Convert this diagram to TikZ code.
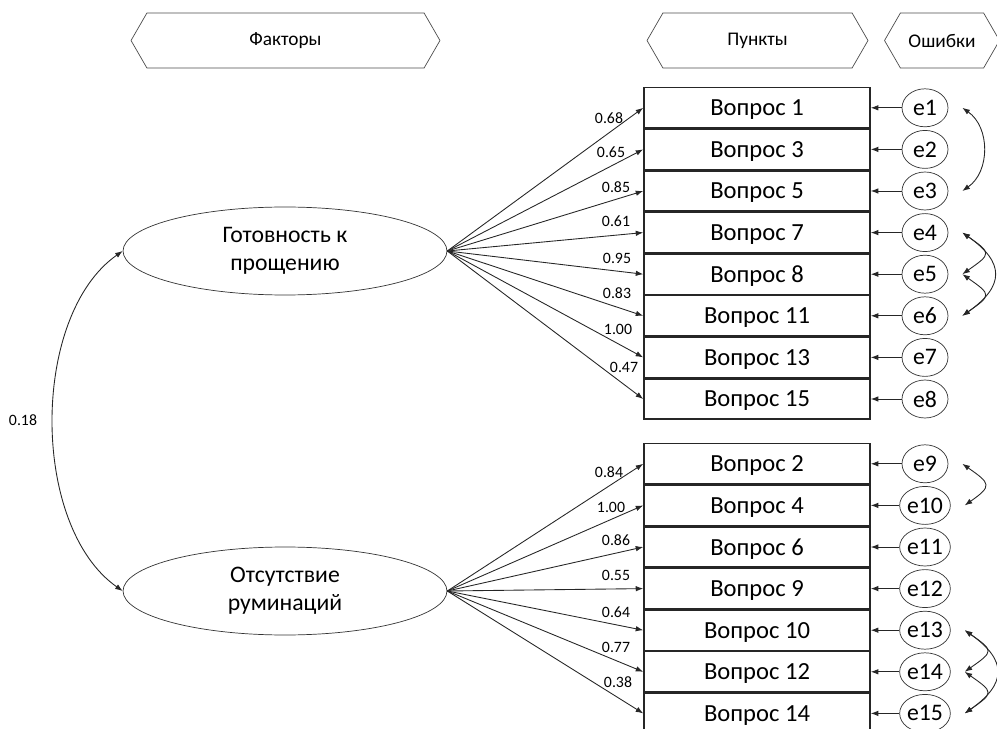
\documentclass[tikz,border=0pt]{standalone}
\usepackage{fontspec}
\setmainfont{Carlito}
\usetikzlibrary{positioning,shapes.geometric,shapes.symbols,arrows.meta}

\begin{document}
\begin{tikzpicture}[
  x=0.02cm, y=-0.02cm,
  font=\fontsize{13.5}{16}\selectfont,
  hdr/.style={draw=black!70, signal, signal to=east and west,
              signal pointer angle=120, minimum height=1.1cm, inner sep=0pt,
              font=\fontsize{11}{12}\selectfont},
  item/.style={draw=black!85, line width=0.9pt, minimum width=4.52cm,
               minimum height=0.81cm, inner sep=0pt, text depth=0pt,
               font=\fontsize{14}{16}\selectfont},
  factor/.style={draw=black!80, ellipse, align=center, minimum width=6.48cm,
                 minimum height=1.76cm, inner sep=0pt},
  err/.style={draw=black!80, ellipse, minimum width=0.92cm,
              minimum height=0.76cm, inner sep=0pt},
  num/.style={font=\fontsize{9}{10}\selectfont, inner sep=0pt},
  arr/.style={-{Latex[length=1.5mm,width=1.1mm]}, black!85, line width=0.5pt},
  corr/.style={{Latex[length=1.5mm,width=1.1mm]}-{Latex[length=1.5mm,width=1.1mm]},
               black!85, line width=0.5pt}
]
\useasboundingbox (0,0) rectangle (997,729);

\node[hdr, minimum width=6.18cm] (hf) at (285.5,40.5) {Факторы};
\node[hdr, minimum width=4.42cm] (hp) at (757.5,40.5) {Пункты};
\node[hdr, minimum width=2.3cm]  (he) at (942,40.5)   {Ошибки};

\node[factor] (f1) at (285,251) {Готовность к\\прощению};
\node[factor] (f2) at (285,591) {Отсутствие\\руминаций};
\draw[corr] (f1.west) to[out=215, in=145, looseness=0.85] (f2.west);
\node[num] (r12) at (23,420) {0.18};

% item / error / loading / label position / factor
\foreach \q/\e/\y/\w/\lx/\ly/\f in {
    1/1/107.8/0.68/609/118/f1, 3/2/149.4/0.65/611/152/f1,
    5/3/191/0.85/616/187/f1, 7/4/232.6/0.61/616/221/f1,
    8/5/274.2/0.95/617/258/f1, 11/6/315.8/0.83/617/293/f1,
    13/7/357.4/1.00/618/329/f1, 15/8/399/0.47/624/367/f1,
    2/9/463.8/0.84/609/472/f2, 4/10/505.4/1.00/611/507/f2,
    6/11/547/0.86/616/540/f2, 9/12/588.6/0.55/616/575/f2,
    10/13/630.2/0.64/616/612/f2, 12/14/671.8/0.77/616/647/f2,
    14/15/713.4/0.38/618/682/f2}{
  \node[item] (q\q) at (757,\y) {Вопрос \q};
  \node[err]  (e\e) at (925,\y) {e\e};
  \draw[arr] (e\e) -- (q\q);
  \draw[arr] (\f.east) -- (q\q.west);
  \node[num] (w\q) at (\lx,\ly) {\w};
}

% correlated errors
\draw[corr] ([xshift=0.28cm]e1.east) to[out=-35, in=35, looseness=1.05] ([xshift=0.28cm]e3.east);
\draw[corr] ([xshift=0.28cm]e4.east) to[out=-35, in=35, looseness=2.2]  ([xshift=0.28cm]e5.east);
\draw[corr] ([xshift=0.28cm]e5.east) to[out=-35, in=35, looseness=2.2]  ([xshift=0.28cm]e6.east);
\draw[corr] ([xshift=0.28cm]e4.east) to[out=-35, in=35, looseness=1.6]  ([xshift=0.28cm]e6.east);
\draw[corr] ([xshift=0.28cm]e9.east) to[out=-35, in=35, looseness=2.1]  ([xshift=0.28cm]e10.east);
\draw[corr] ([xshift=0.28cm]e13.east) to[out=-35, in=35, looseness=2.2] ([xshift=0.28cm]e14.east);
\draw[corr] ([xshift=0.28cm]e14.east) to[out=-35, in=35, looseness=2.2] ([xshift=0.28cm]e15.east);
\draw[corr] ([xshift=0.28cm]e13.east) to[out=-35, in=35, looseness=1.6] ([xshift=0.28cm]e15.east);
\end{tikzpicture}
\end{document}
